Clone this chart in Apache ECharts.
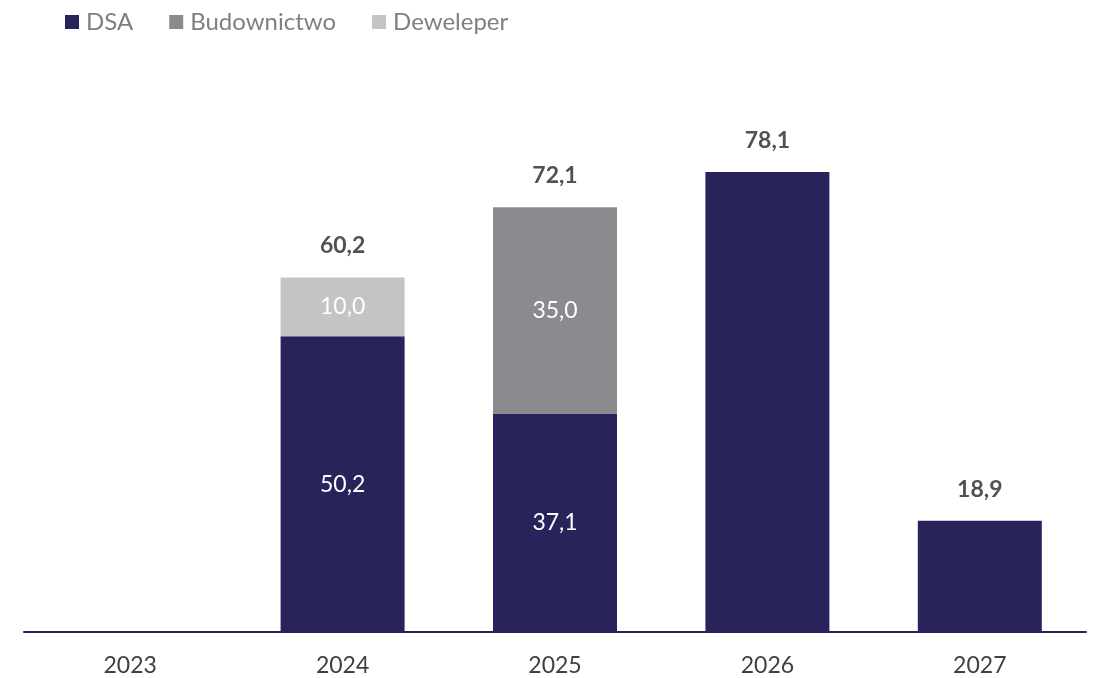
<!DOCTYPE html>
<html><head><meta charset="utf-8">
<script src="https://cdn.jsdelivr.net/npm/echarts@6/dist/echarts.min.js"></script>
<style>html,body{margin:0;padding:0;background:#fff}#c{width:1094px;height:678px}</style>
</head><body><div id="c"></div>
<script>
const categories = ['2023','2024','2025','2026','2027'];
const dsa = [null, 50.2, 37.1, 78.1, 18.9];
const budownictwo = [null, null, 35.0, null, null];
const deweleper = [null, 10.0, null, null, null];
const totals = [null, 60.2, 72.1, 78.1, 18.9];

const fmt = v => v == null ? '' : v.toFixed(1).replace('.', ',');
const FONT = 'Lato';
const colors = {dsa:'#28235a', bud:'#8b8a8f', dew:'#c4c4c4'};

function segCount(i){ return [dsa[i], budownictwo[i], deweleper[i]].filter(v => v != null).length; }
function items(arr){
  return arr.map((v,i) => ({value: v, label: {show: v != null && segCount(i) > 1}}));
}
const innerLabel = {position:'inside', color:'#ffffff', fontSize:23, fontFamily:FONT, formatter: p => fmt(p.value)};

const chart = echarts.init(document.getElementById('c'));
chart.setOption({
  animation:false,
  legend:{left:60, top:5, icon:'rect', itemWidth:14, itemHeight:14, itemGap:36,
    textStyle:{color:'#7f7f7f', fontSize:24, fontFamily:FONT, padding:[0,0,0,2]},
    data:['DSA','Budownictwo','Deweleper']},
  grid:{left:24, right:8, top:43, bottom:46},
  xAxis:{type:'category', data:categories,
    axisLine:{lineStyle:{color:'#28235a', width:2}}, axisTick:{show:false},
    axisLabel:{color:'#404040', fontSize:23, fontFamily:FONT, margin:22}},
  yAxis:{type:'value', min:0, max:100, show:false, splitLine:{show:false}},
  series:[
    {name:'DSA', type:'bar', stack:'a', barWidth:124, itemStyle:{color:colors.dsa}, label:innerLabel, data:items(dsa)},
    {name:'Budownictwo', type:'bar', stack:'a', itemStyle:{color:colors.bud}, label:innerLabel, data:items(budownictwo)},
    {name:'Deweleper', type:'bar', stack:'a', itemStyle:{color:colors.dew}, label:innerLabel, data:items(deweleper)},
    {name:'Total', type:'scatter', symbolSize:0, data:totals, silent:true,
      label:{show:true, position:'top', distance:20, color:'#262626', fontSize:23, fontWeight:'bold', fontFamily:FONT, formatter:p=>fmt(p.value)}}
  ]
});
</script></body></html>
